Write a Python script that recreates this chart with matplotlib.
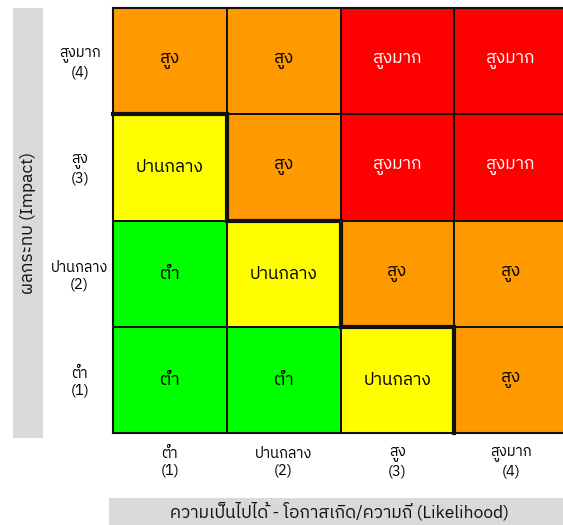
import matplotlib
matplotlib.use("Agg")
import matplotlib.pyplot as plt
import numpy as np
from matplotlib import font_manager
from matplotlib.colors import ListedColormap
from matplotlib.ft2font import FT2Font
from matplotlib.patches import Rectangle

# Data
likelihood_labels = ["ต่ำ\n(1)", "ปานกลาง\n(2)", "สูง\n(3)", "สูงมาก\n(4)"]
impact_labels = ["ต่ำ\n(1)", "ปานกลาง\n(2)", "สูง\n(3)", "สูงมาก\n(4)"]
level_names = ["ต่ำ", "ปานกลาง", "สูง", "สูงมาก"]
level_colors = ["#00ff00", "#ffff00", "#ff9900", "#ff0000"]
level_text_colors = ["black", "black", "black", "white"]
# rows: impact 1..4 (bottom to top), columns: likelihood 1..4
risk_levels = np.array([
    [0, 0, 1, 2],
    [0, 1, 2, 2],
    [1, 2, 3, 3],
    [2, 2, 3, 3],
])
x_title = "ความเป็นไปได้ - โอกาสเกิด/ความถี่ (Likelihood)"
y_title = "ผลกระทบ (Impact)"


def find_thai_font():
    """Pick an installed font that has Thai glyphs."""
    found = []
    for f in font_manager.fontManager.ttflist:
        try:
            cmap = FT2Font(f.fname).get_charmap()
        except Exception:
            continue
        if 0x0E2A in cmap and 0x0E39 in cmap:
            found.append(f.name)
    if not found:
        return None
    found.sort(key=lambda n: (0 if "Thai" in n else 1, "Looped" in n, n))
    return found[0]


thai = find_thai_font()
families = [thai, "DejaVu Sans"] if thai else ["DejaVu Sans"]
plt.rcParams["font.family"] = families

W, H = 563, 525
fig = plt.figure(figsize=(W / 100, H / 100), dpi=100)

# grid area in pixels
gx0, gx1, gy0, gy1 = 113, 568, 8, 433
ax = fig.add_axes([gx0 / W, 1 - gy1 / H, (gx1 - gx0) / W, (gy1 - gy0) / H])

n_rows, n_cols = risk_levels.shape
cmap = ListedColormap(level_colors)
ax.pcolormesh(np.arange(n_cols + 1), np.arange(n_rows + 1), risk_levels,
              cmap=cmap, vmin=-0.5, vmax=3.5, edgecolors="#111111", linewidth=1.2)

for r in range(n_rows):
    for c in range(n_cols):
        lv = risk_levels[r, c]
        ax.text(c + 0.5, r + 0.5, level_names[lv], ha="center", va="center",
                fontsize=12.5, color=level_text_colors[lv])

# thick boundary between low/medium and high/very high
counts = (risk_levels <= 1).sum(axis=1)
xs, ys = [], []
started = False
for r in range(n_rows - 1, -1, -1):
    if counts[r] == 0 and not started:
        continue
    if not started:
        xs.append(0)
        ys.append(r + 1)
        started = True
    xs += [counts[r], counts[r]]
    ys += [r + 1, r]
ax.plot(xs, ys, color="#111111", linewidth=3, solid_capstyle="projecting",
        solid_joinstyle="miter", clip_on=False)

ax.set_xlim(0, n_cols)
ax.set_ylim(0, n_rows)
ax.set_xticks(np.arange(n_cols) + 0.5)
ax.set_xticklabels(likelihood_labels, fontsize=10.5)
ax.set_yticks(np.arange(n_rows) + 0.5)
ax.set_yticklabels(impact_labels, fontsize=10.5, ha="center")
ax.tick_params(length=0)
ax.tick_params(axis="x", pad=10)
ax.tick_params(axis="y", pad=24)
for s in ax.spines.values():
    s.set_linewidth(1.5)
    s.set_color("#111111")

# gray title bands
fig.patches.append(Rectangle((13 / W, 1 - 438 / H), 30 / W, 430 / H,
                             transform=fig.transFigure, facecolor="#d9d9d9",
                             edgecolor="none"))
fig.patches.append(Rectangle((109 / W, 0), (W - 109) / W, 27 / H,
                             transform=fig.transFigure, facecolor="#d9d9d9",
                             edgecolor="none"))
fig.text(28 / W, 1 - 223 / H, y_title, rotation=90, ha="center", va="center",
         fontsize=12.5, color="#111111")
fig.text(340 / W, 1 - 511 / H, x_title, ha="center", va="center",
         fontsize=12.5, color="#111111")

fig.savefig("out.png", dpi=100)
